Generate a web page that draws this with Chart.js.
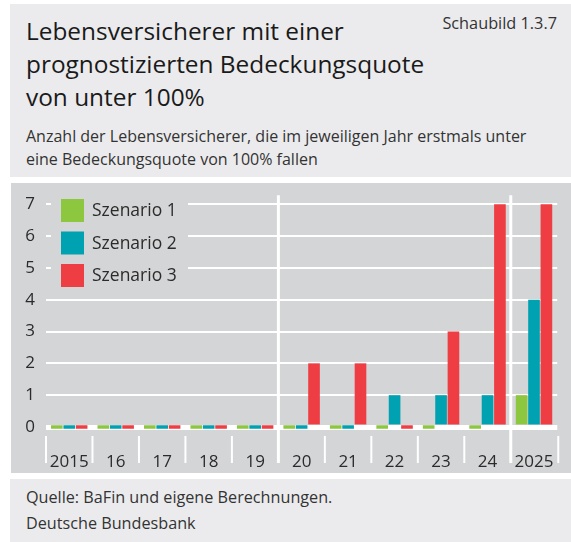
<!DOCTYPE html>
<html>
<head>
<meta charset="utf-8">
<script src="https://cdn.jsdelivr.net/npm/chart.js@4.4.1/dist/chart.umd.min.js"></script>
<style>
	body { margin: 0; width: 571px; height: 542px; background: #fff; font-family: "Open Sans", sans-serif; color: #222; position: relative; overflow: hidden; }
	.head { position: absolute; left: 10px; top: 4px; width: 561px; height: 173px; background: #ebebed; }
	.title { position: absolute; left: 16px; top: 10px; font-size: 24.4px; line-height: 33px; color: #1a1a1a; }
	.nr { position: absolute; right: 14px; top: 8px; font-size: 16.3px; line-height: 22px; color: #333; }
	.sub { position: absolute; left: 16px; top: 121px; font-size: 16px; line-height: 23px; color: #333; }
	.box { position: absolute; left: 11px; top: 183px; width: 560px; height: 290px; background: #d4d5d7; }
	.foot { position: absolute; left: 10px; top: 479px; width: 561px; height: 63px; background: #ebebed; }
	.foot .txt { position: absolute; left: 16px; top: 5px; font-size: 16.2px; line-height: 26px; color: #333; }
</style>
</head>
<body>
<div class="head">
	<div class="title">Lebensversicherer mit einer<br>prognostizierten Bedeckungsquote<br>von unter 100%</div>
	<div class="nr">Schaubild 1.3.7</div>
	<div class="sub">Anzahl der Lebensversicherer, die im jeweiligen Jahr erstmals unter<br>eine Bedeckungsquote von 100% fallen</div>
</div>
<div class="box"><canvas id="barChart" width="560" height="290"></canvas></div>
<div class="foot">
	<div class="txt">Quelle: BaFin und eigene Berechnungen.<br>Deutsche Bundesbank</div>
</div>
<script>
// Data
const years = ['2015', '16', '17', '18', '19', '20', '21', '22', '23', '24', '2025'];
const szenario1 = [0, 0, 0, 0, 0, 0, 0, 0, 0, 0, 1];
const szenario2 = [0, 0, 0, 0, 0, 0, 0, 1, 1, 1, 4];
const szenario3 = [0, 0, 0, 0, 0, 2, 2, 0, 3, 7, 7];
const seriesNames = ['Szenario 1', 'Szenario 2', 'Szenario 3'];
const yMin = 0, yMax = 7, yStep = 1;

// Color Variables
const greenColor = '#8dc63f',
	tealColor = '#00a1b1',
	redColor = '#ef3d44',
	panelColor = '#d4d5d7',
	labelColor = '#2b2b2b';

// zero values are shown as a small dash on the zero line
function toBars(values) {
	return values.map(function(v) {
		return v === 0 ? [-0.055, 0.055] : [0.08, v];
	});
}

// legend inside the plot + year separators
const decorPlugin = {
	id: 'decor',
	beforeDatasetsDraw: function(chart) {
		const ctx = chart.ctx,
			ca = chart.chartArea,
			x = chart.scales.x,
			n = years.length;

		ctx.save();
		ctx.strokeStyle = '#fff';
		for (let i = 0; i <= n; i++) {
			let px;
			if (i === 0) px = ca.left;
			else if (i === n) px = ca.right + 1;
			else px = (x.getPixelForValue(i - 1) + x.getPixelForValue(i)) / 2;
			const major = (i === 5 || i === 10);
			ctx.lineWidth = major ? 3 : 2;
			ctx.beginPath();
			ctx.moveTo(px, major ? ca.top - 9 : ca.bottom + 9);
			ctx.lineTo(px, chart.height - 10);
			ctx.stroke();
		}

		// legend
		ctx.fillStyle = panelColor;
		ctx.fillRect(ca.left + 5, 8, 137, 104);
		chart.data.datasets.forEach(function(ds, i) {
			const y = 16 + i * 32.5;
			ctx.fillStyle = ds.backgroundColor;
			ctx.fillRect(ca.left + 15, y, 23, 23);
			ctx.fillStyle = labelColor;
			ctx.font = '17.5px "Open Sans"';
			ctx.textBaseline = 'middle';
			ctx.fillText(ds.label, ca.left + 46, y + 12.5);
		});
		ctx.restore();
	}
};

document.addEventListener('DOMContentLoaded', function() {
	const barChart = document.getElementById('barChart');
	new Chart(barChart, {
		type: 'bar',
		data: {
			labels: years,
			datasets: [
				{ label: seriesNames[0], data: toBars(szenario1), backgroundColor: greenColor },
				{ label: seriesNames[1], data: toBars(szenario2), backgroundColor: tealColor },
				{ label: seriesNames[2], data: toBars(szenario3), backgroundColor: redColor }
			]
		},
		options: {
			responsive: false,
			devicePixelRatio: 1,
			animation: false,
			layout: {
				padding: { top: 21, right: 12, bottom: 0, left: 0 }
			},
			datasets: {
				bar: {
					categoryPercentage: 0.8,
					barPercentage: 0.94,
					borderWidth: 0,
					clip: false
				}
			},
			plugins: {
				legend: { display: false },
				tooltip: { enabled: false }
			},
			scales: {
				x: {
					grid: { display: false },
					border: { display: false },
					ticks: {
						color: labelColor,
						font: { family: 'Open Sans', size: 17 },
						padding: 17,
						maxRotation: 0,
						autoSkip: false
					},
					afterFit: function(scale) { scale.height = 46; }
				},
				y: {
					min: yMin,
					max: yMax,
					grid: {
						color: '#fff',
						lineWidth: function(c) { return c.tick.value === 0 ? 5 : 2; },
						drawTicks: false
					},
					border: { display: false },
					ticks: {
						stepSize: yStep,
						color: labelColor,
						font: { family: 'Open Sans', size: 17 },
						padding: 11
					},
					afterFit: function(scale) { scale.width = 35; }
				}
			}
		},
		plugins: [decorPlugin]
	});
});
</script>
</body>
</html>
